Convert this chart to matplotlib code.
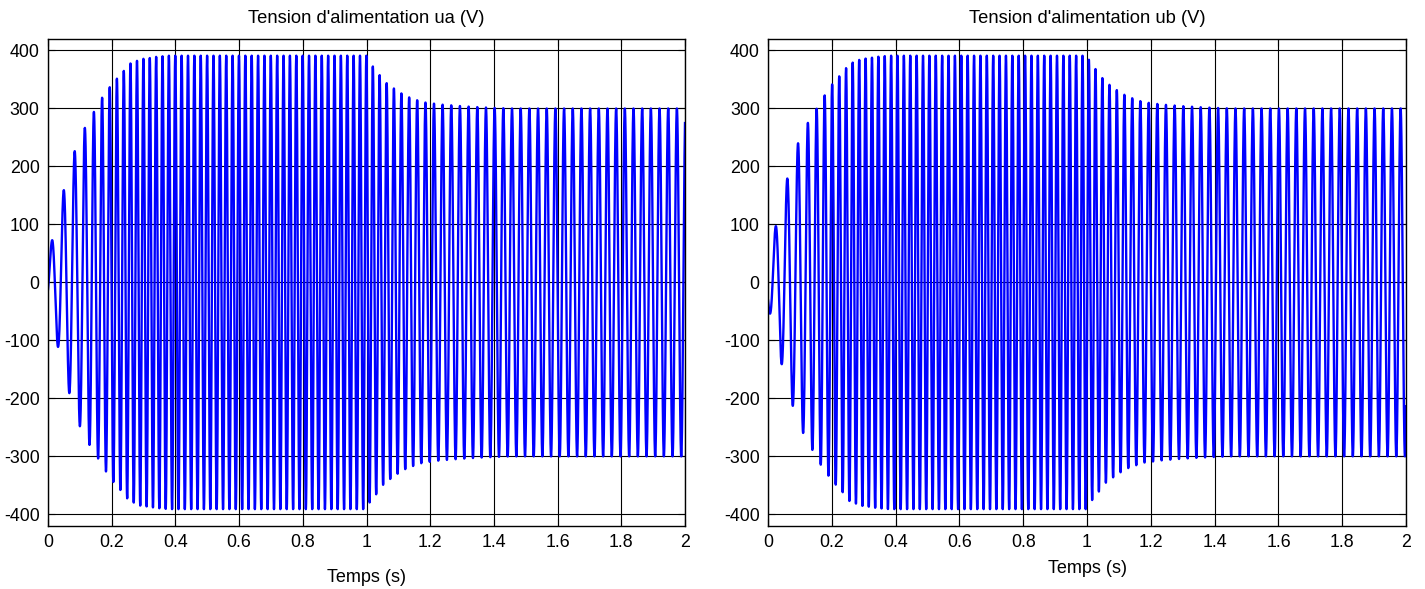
import numpy as np
import matplotlib
matplotlib.use("Agg")
import matplotlib.pyplot as plt

plt.rcParams["font.family"] = ["Liberation Sans", "DejaVu Sans"]

# envelope of the supply voltage (peak value, V) at a few instants (s)
env_t = [0.0, 0.014, 0.032, 0.05, 0.069, 0.084, 0.10, 0.116, 0.13, 0.144,
         0.156, 0.167, 0.18, 0.19, 0.2, 0.214, 0.234, 0.255, 0.27, 0.29,
         0.32, 0.34, 0.36, 0.38, 1.0, 1.009, 1.034, 1.055, 1.077, 1.1,
         1.125, 1.15, 1.176, 1.204, 1.231, 1.3, 1.36, 1.45, 2.0]
env_v = [40, 77, 113, 161, 195, 227, 248, 267, 280, 294,
         302, 317, 324, 334, 341, 350, 362, 377, 380, 385,
         387, 389, 390, 391, 391, 380, 363, 347, 338, 329,
         321, 316, 311, 309, 307, 304, 302, 300, 300]

# supply frequency (Hz) over time
freq_t = [0.0, 0.05, 0.10, 0.15, 0.20, 0.25, 0.30, 1.0, 1.04, 1.09, 1.14, 1.19, 1.25, 2.0]
freq_v = [25, 28, 31, 38, 44, 48, 50, 50, 46, 43, 40, 37.5, 36.7, 36.7]

dt = 2.5e-4
phase0 = -0.3
titles = ["Tension d'alimentation ua (V)", "Tension d'alimentation ub (V)"]
phase_shift = [0.0, -1.95]

xticks = [0, 0.2, 0.4, 0.6, 0.8, 1.0, 1.2, 1.4, 1.6, 1.8, 2.0]
xticklabels = ["0", "0.2", "0.4", "0.6", "0.8", "1", "1.2", "1.4", "1.6", "1.8", "2"]
yticks = [-400, -300, -200, -100, 0, 100, 200, 300, 400]
yticklabels = ["-400", "-300", "-200", "-100", "0", "100", "200", "300", "400"]

t = np.arange(0, 2 + dt / 2, dt)
amp = np.interp(t, env_t, env_v)
freq = np.interp(t, freq_t, freq_v)
theta = phase0 + 2 * np.pi * np.concatenate([[0], np.cumsum(freq[:-1]) * dt])

fig = plt.figure(figsize=(14.25, 5.89), dpi=100)
positions = [[0.0337, 0.107, 0.447, 0.827], [0.539, 0.107, 0.4477, 0.827]]
label_pads = [13, 6.5]

for k in range(2):
    ax = fig.add_axes(positions[k])
    u = amp * np.sin(theta + phase_shift[k])
    ax.plot(t, u, color="#0000ff", lw=1.7)
    ax.set_xlim(0, 2)
    ax.set_ylim(-420, 420)
    ax.set_xticks(xticks)
    ax.set_xticklabels(xticklabels)
    ax.set_yticks(yticks)
    ax.set_yticklabels(yticklabels)
    ax.grid(True, color="black", lw=0.8, ls="-")
    ax.tick_params(direction="in", top=True, right=True, length=5,
                   labelsize=12.8, pad=6)
    for s in ax.spines.values():
        s.set_linewidth(1.0)
    ax.set_title(titles[k], fontsize=13.2, pad=11.5)
    ax.set_xlabel("Temps (s)", fontsize=13, labelpad=label_pads[k])

fig.savefig("out.png", dpi=100)
